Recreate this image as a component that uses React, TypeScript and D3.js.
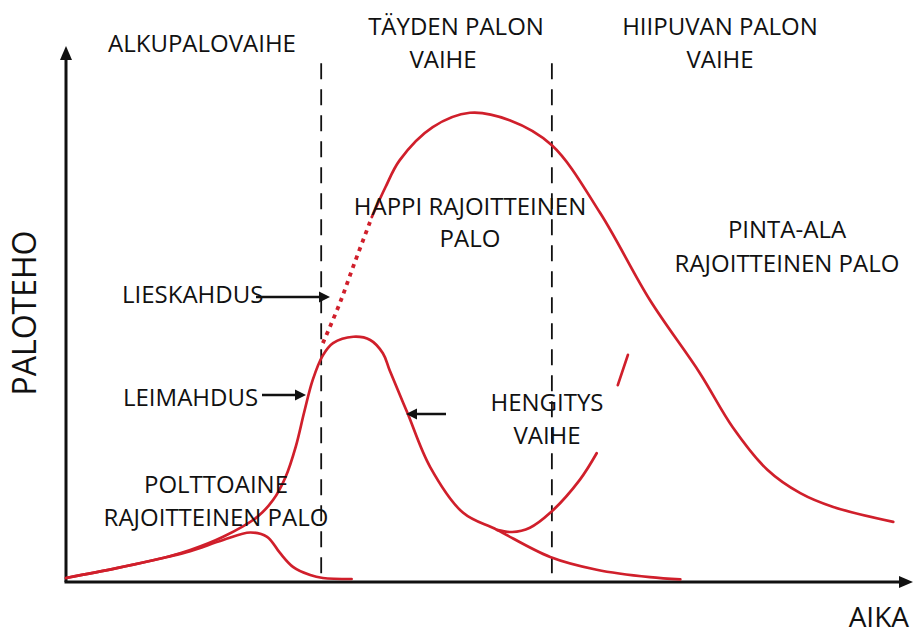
import React from 'react';
import * as d3 from 'd3';

// time (0-100) vs fire power (0-100)
const growthAndVentilation: [number, number][] = [
  [0, 0.75], [6.0, 2.6], [11.95, 4.7], [14.7, 6.0], [18.6, 8.5], [22.6, 12.2],
  [24.5, 15.4], [26.0, 19.8], [27.2, 25.5], [28.2, 32.0], [29.2, 38.0], [30.4, 42.6],
  [31.6, 44.9], [34.0, 46.1], [36.0, 45.5], [37.5, 43.0], [38.3, 39.8], [40.4, 31.8],
  [43.1, 21.6], [47.0, 13.0], [51.0, 9.8], [57.3, 4.7], [62.8, 2.3], [69.1, 0.9],
  [72.7, 0.5]
];

const fuelLimited: [number, number][] = [
  [0, 0.75], [6.0, 2.6], [11.95, 4.7], [14.7, 5.8], [18.6, 7.9], [21.8, 9.3],
  [23.8, 8.5], [25.3, 5.5], [26.9, 2.8], [28.9, 1.3], [30.4, 0.75], [33.8, 0.56]
];

const breathing: [number, number][] = [
  [51.0, 9.8], [52.8, 9.4], [54.9, 10.2], [57.3, 13.0], [60.8, 19.2], [62.8, 24.2]
];

const breathingTail: [number, number][] = [[65.3, 37.0], [66.5, 42.7]];

const flashover: [number, number][] = [
  [30.4, 44.9], [32.4, 52.4], [34.2, 60.2], [36.2, 68.6]
];

const fullFire: [number, number][] = [
  [36.2, 68.6], [37.8, 74.2], [39.5, 79.3], [43.4, 85.5], [47.8, 88.2], [52.5, 86.8],
  [57.5, 82.1], [63.2, 69.4], [69.1, 53.0], [75.0, 39.3], [78.9, 29.1], [83.0, 21.1],
  [86.9, 16.7], [90.8, 14.1], [97.9, 11.3]
];

const phaseBounds = [30.2, 57.5];
const phaseTop = 97.5;

const red = '#d01f2b';
const ink = '#111';
const font = '"Open Sans", sans-serif';

function Arrow({ x1, x2, y }: { x1: number; x2: number; y: number }) {
  const dir = x2 > x1 ? 1 : -1;
  const head = 11;
  return (
    <g>
      <line x1={x1} x2={x2 - dir * head * 0.6} y1={y} y2={y} stroke={ink} strokeWidth={2.6} />
      <path d={`M${x2},${y} L${x2 - dir * head},${y - 5.5} L${x2 - dir * head},${y + 5.5} Z`} fill={ink} />
    </g>
  );
}

export default function App() {
  const width = 917;
  const height = 635;
  const x = d3.scaleLinear().domain([0, 100]).range([66, 911]);
  const y = d3.scaleLinear().domain([0, 100]).range([582, 50]);

  const line = d3.line<[number, number]>()
    .x((d) => x(d[0]))
    .y((d) => y(d[1]))
    .curve(d3.curveCatmullRom.alpha(0.5));

  const label = (lines: string[], cx: number, baseline: number, lh: number, size = 24) => (
    <text textAnchor="middle" fontFamily={font} fontSize={size} fill={ink}>
      {lines.map((l, i) => (
        <tspan key={i} x={cx} y={baseline + i * lh}>{l}</tspan>
      ))}
    </text>
  );

  return (
    <svg width={width} height={height} style={{ position: 'absolute', left: 0, top: 0, background: '#fff' }}>
      {/* phase boundaries */}
      {phaseBounds.map((b, i) => (
        <line key={i} x1={x(b)} x2={x(b)} y1={y(phaseTop)} y2={y(0)}
          stroke={ink} strokeWidth={1.8} strokeDasharray="16,10" />
      ))}

      {/* axes */}
      <line x1={x(0)} x2={x(0)} y1={y(0)} y2={y(100) + 6} stroke={ink} strokeWidth={3} />
      <path d={`M${x(0)},${y(100) - 4} L${x(0) - 6},${y(100) + 10} L${x(0) + 6},${y(100) + 10} Z`} fill={ink} />
      <line x1={x(0) - 1.5} x2={x(100) - 6} y1={y(0)} y2={y(0)} stroke={ink} strokeWidth={3} />
      <path d={`M${x(100) + 2},${y(0)} L${x(100) - 12},${y(0) - 6} L${x(100) - 12},${y(0) + 6} Z`} fill={ink} />

      {/* curves */}
      <g fill="none" stroke={red} strokeWidth={2.7} strokeLinecap="round">
        <path d={line(fuelLimited) || ''} />
        <path d={line(growthAndVentilation) || ''} />
        <path d={line(breathing) || ''} />
        <path d={line(breathingTail) || ''} />
        <path d={line(fullFire) || ''} />
        <path d={line(flashover) || ''} strokeDasharray="4,5" strokeWidth={3.8} strokeLinecap="butt" />
      </g>

      {/* labels */}
      {label(['ALKUPALOVAIHE'], 202, 52, 33)}
      {label(['TÄYDEN PALON'], 456, 35, 33)}
      {label(['VAIHE'], 443, 68, 33)}
      {label(['HIIPUVAN PALON', 'VAIHE'], 720, 35, 33)}
      {label(['HAPPI RAJOITTEINEN', 'PALO'], 470, 215, 32)}
      {label(['PINTA-ALA', 'RAJOITTEINEN PALO'], 787, 238, 34)}
      {label(['HENGITYS', 'VAIHE'], 547, 411, 33)}
      {label(['POLTTOAINE', 'RAJOITTEINEN PALO'], 216, 493, 33)}

      <text x={122} y={303} fontFamily={font} fontSize={24} fill={ink}>LIESKAHDUS</text>
      <Arrow x1={256} x2={330} y={297} />
      <text x={123} y={406} fontFamily={font} fontSize={24} fill={ink}>LEIMAHDUS</text>
      <Arrow x1={262} x2={306} y={395} />
      <Arrow x1={446} x2={406} y={414} />

      {/* axis titles */}
      <text transform={`translate(36,313) rotate(-90)`} textAnchor="middle" fontFamily={font} fontSize={32} fill={ink}>PALOTEHO</text>
      <text x={909} y={627} textAnchor="end" fontFamily={font} fontSize={28} fill={ink}>AIKA</text>
    </svg>
  );
}
